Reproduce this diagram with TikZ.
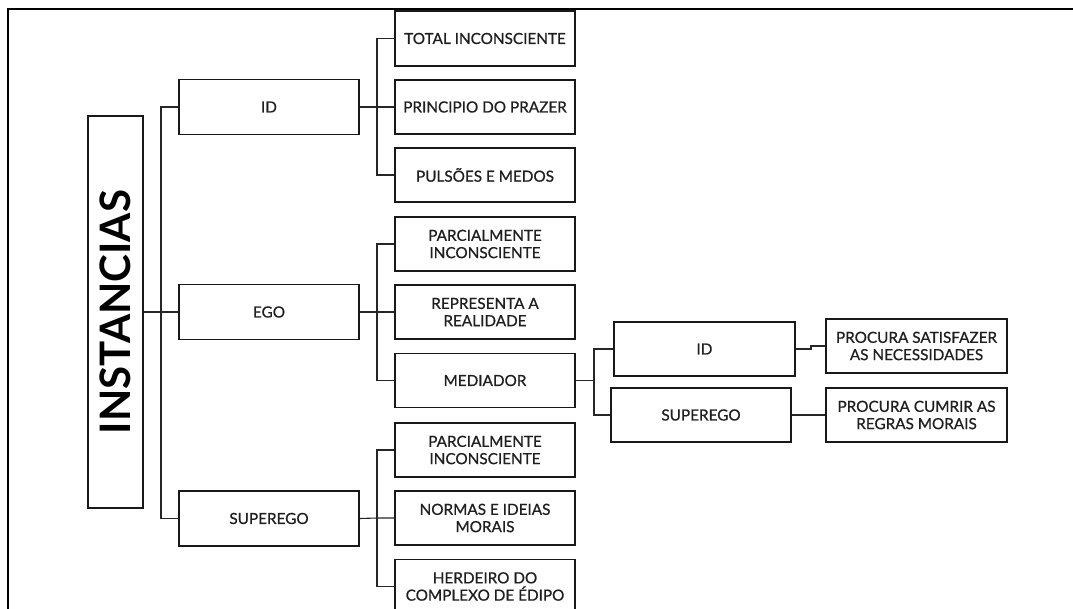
\documentclass[tikz,border=0pt]{standalone}
\usepackage{fontspec}
\setmainfont{Lato}
\newfontfamily\medfont{Lato}[BoldFont={Lato}, BoldFeatures={FakeBold=0.7}]
\begin{document}
\begin{tikzpicture}[x=1pt,y=-1pt,
  box/.style={draw=black!90,line width=1.5pt,minimum width=180pt,minimum height=54pt,inner sep=1pt,align=center,
    text=black!88,font=\medfont\bfseries\fontsize{15.3}{17.3}\selectfont},
  conn/.style={draw=black!85,line width=1.1pt}]
\useasboundingbox (0,0) rectangle (1073,608);
\clip (0,0) rectangle (1073,608);
\fill[white] (0,0) rectangle (1073,608);
\draw[line width=1.5pt] (8,612) -- (8,9) -- (1076,9);
% root
\node[draw=black!90,line width=1.5pt,rotate=90,minimum width=392pt,minimum height=55pt,inner sep=0pt,
  font=\bfseries\fontsize{42}{45}\selectfont] (inst) at (115.5,312) {INSTANCIAS};
% level 1
\node[box,minimum height=55pt] (id1) at (269,107) {ID};
\node[box,minimum height=55pt] (ego1) at (269,312) {EGO};
\node[box,minimum height=55pt] (sup1) at (269,518.5) {SUPEREGO};
% level 2
\node[box,minimum height=55pt] (t1) at (485,38.5) {TOTAL INCONSCIENTE};
\node[box] (p1) at (485,107) {PRINCIPIO DO PRAZER};
\node[box] (pm) at (485,175) {PULSÕES E MEDOS};
\node[box] (pa1) at (485,244) {PARCIALMENTE\\INCONSCIENTE};
\node[box] (rr) at (485,312) {REPRESENTA A\\REALIDADE};
\node[box] (med) at (485,380.5) {MEDIADOR};
\node[box] (pa2) at (485,450) {PARCIALMENTE\\INCONSCIENTE};
\node[box] (nm) at (485,518) {NORMAS E IDEIAS\\MORAIS};
\node[box] (hc) at (485,586.5) {HERDEIRO DO\\COMPLEXO DE ÉDIPO};
% level 3
\node[box,minimum width=181pt] (id2) at (704.5,349) {ID};
\node[box] (sup2) at (701,415) {SUPEREGO};
\node[box,minimum width=181pt] (ps) at (916.5,346) {PROCURA SATISFAZER\\AS NECESSIDADES};
\node[box,minimum width=181pt] (pc) at (916.5,415) {PROCURA CUMRIR AS\\REGRAS MORAIS};
% connectors
\coordinate (j0) at (161,312);
\draw[conn] (inst.south) -- (j0) -- (ego1.west);
\draw[conn] (j0) |- (id1.west);
\draw[conn] (j0) |- (sup1.west);
\coordinate (j1) at (377,107);
\draw[conn] (id1.east) -- (j1) -- (p1.west);
\draw[conn] (j1) |- (t1.west);
\draw[conn] (j1) |- (pm.west);
\coordinate (j2) at (377,312);
\draw[conn] (ego1.east) -- (j2) -- (rr.west);
\draw[conn] (j2) |- (pa1.west);
\draw[conn] (j2) |- (med.west);
\coordinate (j3) at (377,518);
\draw[conn] (sup1.east) -- (j3) -- (nm.west);
\draw[conn] (j3) |- (pa2.west);
\draw[conn] (j3) |- (hc.west);
\coordinate (j4) at (594,380.5);
\draw[conn] (med.east) -- (j4);
\draw[conn] (j4) |- (id2.west);
\draw[conn] (j4) |- (sup2.west);
\coordinate (j5) at (811,349);
\draw[conn] (id2.east) -- (j5) |- (ps.west);
\draw[conn] (sup2.east) -- (pc.west);
\end{tikzpicture}
\end{document}
